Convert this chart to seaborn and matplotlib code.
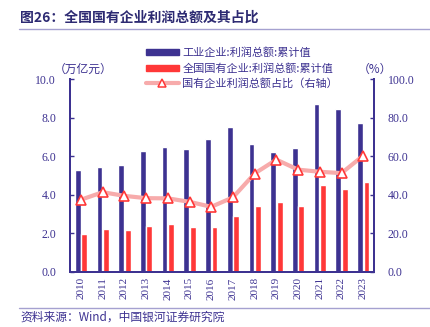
import numpy as np
import pandas as pd
import matplotlib
matplotlib.use("Agg")
import matplotlib.pyplot as plt
from matplotlib.lines import Line2D
from matplotlib.patches import Patch
import seaborn as sns

years = ["2010", "2011", "2012", "2013", "2014", "2015", "2016",
         "2017", "2018", "2019", "2020", "2021", "2022", "2023"]
industrial_profit = [5.30, 5.45, 5.56, 6.29, 6.49, 6.36, 6.88,
                     7.53, 6.64, 6.20, 6.45, 8.73, 8.43, 7.70]
soe_profit = [1.98, 2.24, 2.19, 2.40, 2.48, 2.30, 2.32,
              2.90, 3.39, 3.60, 3.43, 4.52, 4.31, 4.64]
soe_share = [37.4, 41.3, 39.4, 38.2, 38.1, 36.3, 33.7,
             38.6, 51.0, 58.2, 53.0, 51.9, 51.2, 60.3]

name_ind = "工业企业:利润总额:累计值"
name_soe = "全国国有企业:利润总额:累计值"
name_share = "国有企业利润总额占比（右轴）"

NAVY = "#3D3291"
RED = "#FF3838"
PINK = "#F7ABAB"
TXT = "#3D3291"

sns.set_theme(style="white")
serif = ["Liberation Serif", "Noto Sans CJK SC", "DejaVu Sans"]
cjk = ["Noto Sans CJK SC", "DejaVu Sans"]
plt.rcParams["font.family"] = serif

df = pd.DataFrame({
    "year": years * 2,
    "value": industrial_profit + soe_profit,
    "series": [name_ind] * len(years) + [name_soe] * len(years),
})

W, H = 430, 327
fig = plt.figure(figsize=(W / 100, H / 100), dpi=100)
ax = fig.add_axes([0.163, 0.169, 0.707, 0.589])

sns.barplot(data=df, x="year", y="value", hue="series",
            palette=[NAVY, RED], width=0.6, gap=0.12,
            saturation=1, ax=ax, legend=False)

ax2 = ax.twinx()
line_df = pd.DataFrame({"pos": np.arange(len(years)), "share": soe_share})
sns.lineplot(data=line_df, x="pos", y="share", ax=ax2, color=PINK, lw=3,
             marker="^", markersize=7, markerfacecolor="white",
             markeredgecolor=RED, markeredgewidth=1.2)

ax.set_xlim(-0.5, len(years) - 0.5)
ax.set_ylim(0, 10)
ax2.set_ylim(0, 100)
ax.set_yticks(np.arange(0, 10.1, 2))
ax.set_yticklabels([f"{v:.1f}" for v in np.arange(0, 10.1, 2)], family=serif)
ax2.set_yticks(np.arange(0, 101, 20))
ax2.set_yticklabels([f"{v:.1f}" for v in np.arange(0, 101, 20)], family=serif)
ax.set_xticks(np.arange(len(years)))
ax.set_xticklabels(years, family=serif)
ax.set_xlabel("")
ax.set_ylabel("")
ax2.set_xlabel("")
ax2.set_ylabel("")

for a in (ax, ax2):
    for s in ("left", "right", "bottom"):
        a.spines[s].set_color(NAVY)
        a.spines[s].set_linewidth(1.4)
    a.spines["top"].set_visible(False)
    a.grid(False)

ax.tick_params(axis="y", direction="in", length=3, width=1, color=NAVY,
               labelsize=8.5, labelcolor=TXT, pad=10)
ax2.tick_params(axis="y", direction="in", length=3, width=1, color=NAVY,
                labelsize=8.5, labelcolor=TXT, pad=10)
ax.tick_params(axis="x", length=0, labelsize=8, labelcolor=TXT,
               labelrotation=90, pad=4)
ax.set_xticks(np.arange(-0.5, len(years), 1), minor=True)
ax.tick_params(axis="x", which="minor", direction="in", length=3,
               width=1, color=NAVY)

# unit captions above each value axis
fig.text(83 / W, 1 - 69 / H, "（万亿元）", ha="center", va="center",
         fontsize=8.5, color=TXT, family=cjk)
fig.text(375 / W, 1 - 69 / H, "（%）", ha="center", va="center",
         fontsize=8.5, color=TXT, family=cjk)

handles = [
    Patch(facecolor=NAVY, edgecolor=NAVY),
    Patch(facecolor=RED, edgecolor=RED),
    Line2D([0], [0], color=PINK, lw=3, marker="^", markersize=6,
           markerfacecolor="white", markeredgecolor=RED, markeredgewidth=1.1),
]
leg = fig.legend(handles, [name_ind, name_soe, name_share],
                 loc="upper left", bbox_to_anchor=(0.317, 0.885),
                 frameon=False, handlelength=2.9,
                 handleheight=0.45, handletextpad=0.35, labelspacing=0.4,
                 prop={"family": cjk, "size": 8})
for t in leg.get_texts():
    t.set_color(TXT)

fig.text(0.047, 0.945, "图26：全国国有企业利润总额及其占比", fontsize=10,
         fontweight="bold", color="#2D2A72", family=cjk, va="center")
fig.add_artist(Line2D([0.045, 1.0], [0.912, 0.912], color="#A5A1D0", lw=1))
fig.add_artist(Line2D([0.045, 1.0], [0.058, 0.058], color="#A5A1D0", lw=1))
fig.text(0.047, 0.03, "资料来源：Wind，中国银河证券研究院", fontsize=8.5,
         style="italic", color=TXT, family=cjk, va="center")

fig.savefig("out.png", dpi=100)
